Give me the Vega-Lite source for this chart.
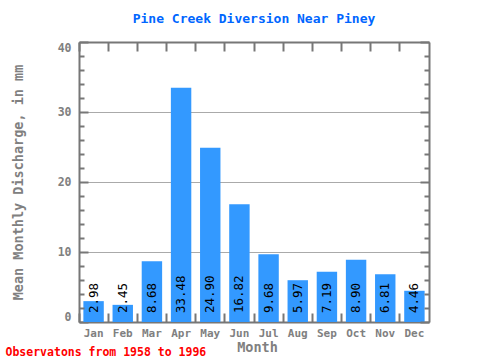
{
  "$schema": "https://vega.github.io/schema/vega-lite/v6.json",
  "width": 350,
  "height": 280,
  "autosize": {"type": "none"},
  "padding": {"left": 79, "top": 42, "right": 51, "bottom": 38},
  "background": "white",
  "title": {"text": "Pine Creek Diversion Near Piney", "frame": "group", "anchor": "middle", "color": "#0066ff", "font": "DejaVu Sans Mono", "fontSize": 13, "fontWeight": "bold", "offset": 15},
  "data": {"values": [
    {"month": "Jan", "v": 2.98},
    {"month": "Feb", "v": 2.45},
    {"month": "Mar", "v": 8.68},
    {"month": "Apr", "v": 33.48},
    {"month": "May", "v": 24.90},
    {"month": "Jun", "v": 16.82},
    {"month": "Jul", "v": 9.68},
    {"month": "Aug", "v": 5.97},
    {"month": "Sep", "v": 7.19},
    {"month": "Oct", "v": 8.90},
    {"month": "Nov", "v": 6.81},
    {"month": "Dec", "v": 4.46}
  ]},
  "config": {
    "view": {"stroke": null},
    "axis": {
      "labelFont": "DejaVu Sans Mono", "labelFontWeight": "bold", "labelColor": "#808080",
      "titleFont": "DejaVu Sans Mono", "titleFontWeight": "bold", "titleColor": "#808080",
      "domainColor": "#777777", "domainWidth": 2, "tickColor": "#777777", "tickWidth": 2
    }
  },
  "resolve": {"axis": {"x": "independent", "y": "independent"}},
  "layer": [
    {
      "mark": {"type": "bar", "color": "#3399ff", "width": {"band": 0.7}},
      "encoding": {
        "x": {"field": "month", "type": "nominal", "sort": null,
          "scale": {"domain": ["Jan","Feb","Mar","Apr","May","Jun","Jul","Aug","Sep","Oct","Nov","Dec"], "paddingInner": 0, "paddingOuter": 0},
          "axis": {"orient": "bottom", "title": "Month", "bandPosition": 0, "tickSize": -9, "labelPadding": 14, "labelAngle": 0, "labelFontSize": 11,
            "titleFontSize": 13.5, "titleX": 178, "titleY": 25, "titleBaseline": "middle", "titleAlign": "center"}},
        "y": {"field": "v", "type": "quantitative", "scale": {"domain": [0, 40], "nice": false},
          "axis": {"orient": "left", "values": [0, 10, 20, 30, 40], "grid": true, "gridColor": "#aaaaaa", "gridWidth": 1, "tickSize": -9, "labelPadding": 17,
            "labelFontSize": 11.5, "labelFlush": true, "title": "Mean Monthly Discharge, in mm", "titleFontSize": 13.5,
            "titleX": -61, "titleY": 140, "titleBaseline": "middle", "titleAlign": "center", "titleAngle": 270}}
      }
    },
    {
      "mark": {"type": "text", "angle": 270, "align": "left", "baseline": "middle", "dx": 9, "font": "DejaVu Sans Mono", "fontSize": 12.5, "color": "black"},
      "encoding": {
        "x": {"field": "month", "type": "nominal", "sort": null,
          "axis": {"orient": "top", "title": null, "bandPosition": 0, "tickSize": -9, "labels": false, "zindex": 1}},
        "y": {"datum": 0, "type": "quantitative",
          "axis": {"orient": "right", "values": [0, 10, 20, 30, 40], "tickSize": -9, "labels": false, "grid": false, "title": null, "zindex": 1}},
        "text": {"field": "v", "type": "quantitative", "format": ".2f"}
      }
    },
    {
      "mark": {"type": "bar", "opacity": 0, "width": {"band": 0.7}},
      "encoding": {
        "x": {"field": "month", "type": "nominal", "sort": null, "axis": null},
        "y": {"field": "v", "type": "quantitative",
          "axis": {"orient": "left", "values": [2,4,6,8,12,14,16,18,22,24,26,28,32,34,36,38], "tickSize": -5, "labels": false, "domain": false, "grid": false, "title": null, "zindex": 1}}
      }
    },
    {
      "mark": {"type": "bar", "opacity": 0, "width": {"band": 0.7}},
      "encoding": {
        "x": {"field": "month", "type": "nominal", "sort": null,
          "axis": {"orient": "bottom", "labels": false, "ticks": false, "domain": false, "grid": false,
            "title": "Observatons from 1958 to 1996", "titleColor": "#ff0000", "titleFontSize": 11.5,
            "titleX": -74, "titleY": 30, "titleAlign": "left", "titleBaseline": "middle"}},
        "y": {"field": "v", "type": "quantitative",
          "axis": {"orient": "right", "values": [2,4,6,8,12,14,16,18,22,24,26,28,32,34,36,38], "tickSize": -5, "labels": false, "domain": false, "grid": false, "title": null, "zindex": 1}}
      }
    }
  ]
}
